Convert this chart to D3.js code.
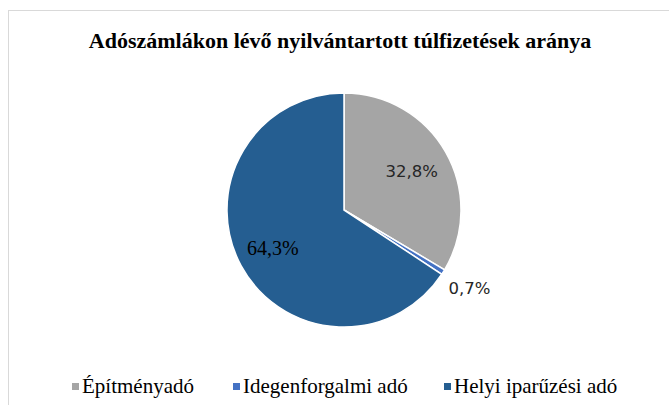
<!DOCTYPE html>
<html><head><meta charset="utf-8">
<script src="https://cdn.jsdelivr.net/npm/d3@7"></script>
<style>body{margin:0;background:#fff}svg{display:block}</style>
</head><body>
<svg id="c" width="669" height="405"></svg>
<script>
const title = "Adószámlákon lévő nyilvántartott túlfizetések aránya";
const categories = ["Építményadó", "Idegenforgalmi adó", "Helyi iparűzési adó"];
const values = [32.8, 0.7, 64.3];
const labels = ["32,8%", "0,7%", "64,3%"];
const colors = ["#A5A5A5", "#4472C4", "#255E91"];

const svg = d3.select("#c");
svg.append("rect").attr("x", 8.5).attr("y", 10.5).attr("width", 700).attr("height", 500)
  .attr("fill", "#fff").attr("stroke", "#D9D9D9").attr("stroke-width", 1);

svg.append("text").attr("x", 340).attr("y", 48).attr("text-anchor", "middle")
  .attr("font-family", "'Liberation Serif', 'DejaVu Serif', serif").attr("font-weight", "bold").attr("font-size", 22)
  .attr("fill", "#000").text(title);

const cx = 344, cy = 210, R = 117;
const pie = d3.pie().sort(null).value(d => d)(values);
const arc = d3.arc().innerRadius(0).outerRadius(R);
const g = svg.append("g").attr("transform", `translate(${cx},${cy})`);
g.selectAll("path").data(pie).join("path").attr("d", arc)
  .attr("fill", (d, i) => colors[i]).attr("stroke", "#fff").attr("stroke-width", 1.5);

const labelR = [78, 148, 81];
const fonts = ["DejaVu Sans", "DejaVu Sans", "'Liberation Serif', serif"];
const sizes = [16.5, 16.5, 20];
const fills = ["#262626", "#262626", "#000"];
g.selectAll("text.lab").data(pie).join("text").attr("class", "lab")
  .attr("transform", (d, i) => {
    const a = (d.startAngle + d.endAngle) / 2;
    return `translate(${labelR[i] * Math.sin(a)},${-labelR[i] * Math.cos(a)})`;
  })
  .attr("dy", "0.35em").attr("text-anchor", "middle")
  .attr("font-family", (d, i) => fonts[i]).attr("font-size", (d, i) => sizes[i])
  .attr("fill", (d, i) => fills[i]).text((d, i) => labels[i]);

const legX = [72, 233, 444];
const leg = svg.append("g");
categories.forEach((c, i) => {
  leg.append("rect").attr("x", legX[i]).attr("y", 383).attr("width", 7).attr("height", 7).attr("fill", colors[i]);
  leg.append("text").attr("x", legX[i] + 10).attr("y", 393)
    .attr("font-family", "'Liberation Serif', serif").attr("font-size", 21).attr("fill", "#000").text(c);
});
</script>
</body></html>
